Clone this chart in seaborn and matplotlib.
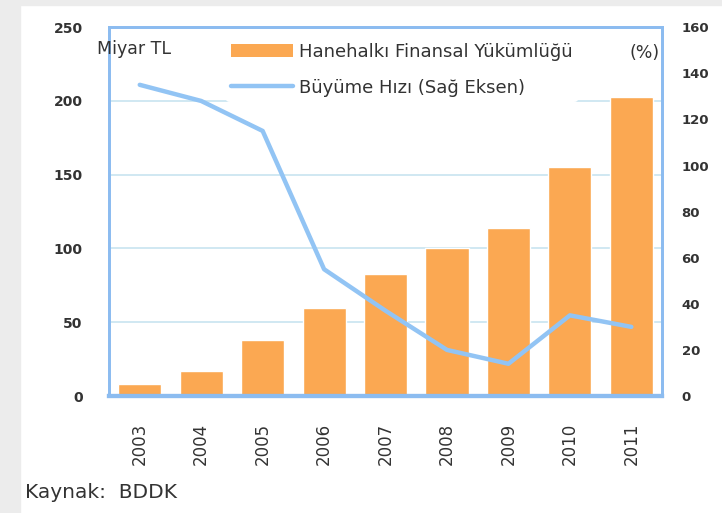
import matplotlib
matplotlib.use("Agg")
import matplotlib.pyplot as plt
from matplotlib.patches import Patch, Rectangle
from matplotlib.lines import Line2D
import seaborn as sns
import pandas as pd
import numpy as np

years = ["2003", "2004", "2005", "2006", "2007", "2008", "2009", "2010", "2011"]
liabilities = [8, 17, 38, 60, 83, 100, 114, 155, 203]   # Miyar TL
growth = [135, 128, 115, 55, 37, 20, 14, 35, 30]          # %

bar_label = "Hanehalkı Finansal Yükümlüğü"
line_label = "Büyüme Hızı (Sağ Eksen)"

orange = "#fba852"
blue = "#92c4f4"
frame_blue = "#8cbcf0"
grid_col = "#c8e4f0"
txt = "#333333"

sns.set_style("white")
plt.rcParams["font.family"] = ["DejaVu Sans"]

df = pd.DataFrame({"yil": years, "yukumluluk": liabilities, "buyume": growth})
df["pos"] = np.arange(len(df))

fig = plt.figure(figsize=(7.22, 5.13), dpi=100)
fig.patch.set_facecolor("white")
# gray outer frame (screenshot border)
fig.patches.append(Rectangle((0, 0), 20 / 722, 1, transform=fig.transFigure,
                             color="#ececec", zorder=-5))
fig.patches.append(Rectangle((0, 1 - 5 / 513), 1, 5 / 513, transform=fig.transFigure,
                             color="#ececec", zorder=-5))

ax = fig.add_axes([0.151, 0.228, 0.766, 0.719])
sns.barplot(data=df, x="yil", y="yukumluluk", color=orange, saturation=1,
            width=0.7, ax=ax)
ax.set_ylim(0, 250)
ax.set_xlim(-0.5, len(years) - 0.5)
ax.set_yticks([0, 50, 100, 150, 200, 250])
ax.set_axisbelow(True)
ax.yaxis.grid(True, color=grid_col, linewidth=1.2)
ax.set_xlabel("")
ax.set_ylabel("")
ax.tick_params(axis="y", length=0, pad=19, labelsize=10, labelcolor=txt)
ax.tick_params(axis="x", length=0, pad=19, labelsize=12, labelcolor=txt,
               rotation=90)
for lab in ax.get_yticklabels():
    lab.set_fontweight("bold")

ax2 = ax.twinx()
sns.lineplot(data=df, x="pos", y="buyume", color=blue, linewidth=3.2, ax=ax2)
ax2.set_ylim(0, 160)
ax2.set_yticks([0, 20, 40, 60, 80, 100, 120, 140, 160])
ax2.set_xlim(-0.5, len(years) - 0.5)
ax2.set_ylabel("")
ax2.set_xlabel("")
ax2.grid(False)
ax2.tick_params(axis="y", length=0, pad=14, labelsize=9.5, labelcolor=txt)
for lab in ax2.get_yticklabels():
    lab.set_fontweight("bold")

for a in (ax, ax2):
    for side in ["left", "right", "top", "bottom"]:
        a.spines[side].set_visible(True)
        a.spines[side].set_color(frame_blue)
        a.spines[side].set_linewidth(2)
    a.spines["bottom"].set_linewidth(3)

handles = [Patch(facecolor=orange, edgecolor="none"),
           Line2D([0], [0], color=blue, linewidth=3.2)]
leg = ax2.legend(handles, [bar_label, line_label], loc="upper left",
                 bbox_to_anchor=(0.195, 0.997), frameon=True, fontsize=13,
                 handlelength=3.4, handleheight=0.72, handletextpad=0.33,
                 labelspacing=1.0, borderpad=0.3, facecolor="white",
                 edgecolor="none", framealpha=1)
for t in leg.get_texts():
    t.set_color(txt)

ax2.text(-0.022, 0.94, "Miyar TL", transform=ax2.transAxes, fontsize=12.5,
         color=txt, ha="left", va="center", clip_on=False, zorder=10)
ax2.text(0.995, 0.93, "(%)", transform=ax2.transAxes, fontsize=12.5,
         color=txt, ha="right", va="center", zorder=10)

fig.text(25 / 722, 1 - 492 / 513, "Kaynak:  BDDK", fontsize=14.5, color=txt,
         ha="left", va="center")

fig.savefig("out.png", dpi=100, facecolor=fig.get_facecolor())
